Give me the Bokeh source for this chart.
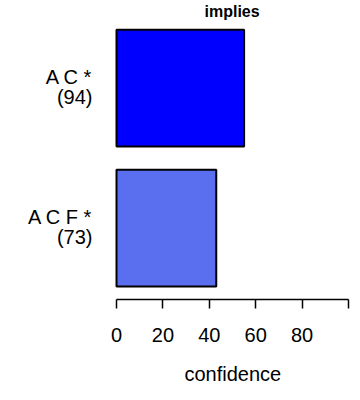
from bokeh.plotting import figure
from bokeh.models import Range1d, FixedTicker, ColumnDataSource, LabelSet, Title
from bokeh.core.properties import value
from bokeh.embed import file_html
from bokeh.resources import INLINE

rules = ["A C *", "A C F *"]
counts = [94, 73]
confidence = [55, 43]
ypos = [1.9, 0.7]
colors = ["#0000FF", "#5A6FF0"]
xticks = [0, 20, 40, 60, 80, 100]

FONT = "Liberation Sans"

# frame spans the whole width; the value axis itself covers 0..100 only
p = figure(width=352, height=400, output_backend="svg", toolbar_location=None,
           x_range=Range1d(-50, 101.72), y_range=Range1d(0.088, 2.488),
           min_border_left=0, min_border_right=0, min_border_bottom=0,
           min_border_top=0)
p.outline_line_color = None
p.xgrid.visible = False
p.ygrid.visible = False

p.hbar(y=ypos, right=confidence, left=0, height=1.0, fill_color=colors,
       line_color="black", line_width=2)

p.title.text = "implies"
p.title.text_font = FONT
p.title.text_font_size = "16px"
p.title.text_font_style = "bold"
p.title.text_color = "black"
p.title.align = "left"
p.title.standoff = 0
p.title.offset = 204

xa = p.xaxis[0]
xa.ticker = FixedTicker(ticks=xticks)
xa.bounds = (0, 100)
xa.major_label_overrides = {100: ""}
xa.axis_line_color = "black"
xa.axis_line_width = 1.5
xa.major_tick_line_width = 1.5
xa.major_tick_out = 9
xa.major_tick_in = 0
xa.minor_tick_line_color = None
xa.major_label_text_font = FONT
xa.major_label_text_font_size = "20px"
xa.major_label_text_color = "black"
xa.major_label_standoff = 19

xlab = Title(text="confidence", align="left", offset=184, standoff=32,
             text_font=FONT, text_font_size="20px", text_font_style="normal",
             text_color="black")
p.add_layout(xlab, "below")

p.yaxis.visible = False

src = ColumnDataSource(dict(
    x=[0] * len(ypos), y=ypos, rule=rules,
    count=[f"({c})" for c in counts]))
for col, yoff in (("rule", 4.5), ("count", -15.5)):
    p.add_layout(LabelSet(x="x", y="y", text=col, source=src,
                          x_offset=-24, y_offset=yoff,
                          text_align="right", text_baseline="alphabetic",
                          text_font=value(FONT), text_font_size=value("20px"),
                          text_color="black"))

open("out.html", "w").write(file_html(p, INLINE))
